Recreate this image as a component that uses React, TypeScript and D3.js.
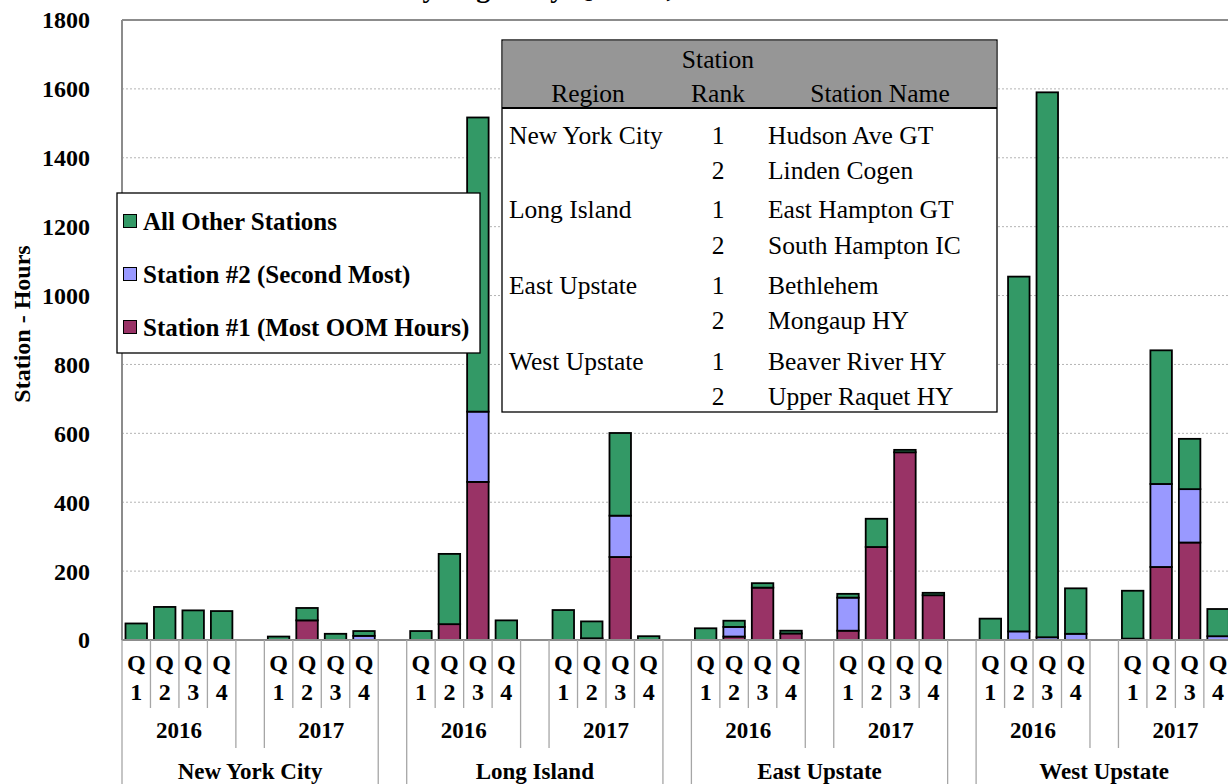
import React, { useRef, useEffect } from 'react';
import * as d3 from 'd3';

const regions = ["New York City", "Long Island", "East Upstate", "West Upstate"];
const years = ["2016", "2017"];
const quarters = ["1", "2", "3", "4"];

// per region: 2016 Q1..Q4, then 2017 Q1..Q4
const station1 = [
  [0, 0, 0, 0, 0, 57, 0, 0],
  [0, 46, 459, 0, 0, 5, 241, 0],
  [0, 10, 152, 19, 27, 270, 545, 130],
  [0, 0, 0, 0, 4, 212, 283, 0],
];
const station2 = [
  [0, 0, 0, 0, 0, 0, 0, 12],
  [0, 0, 204, 0, 0, 0, 120, 0],
  [0, 28, 0, 0, 96, 0, 0, 0],
  [0, 25, 8, 18, 0, 241, 155, 11],
];
const otherStations = [
  [48, 96, 86, 84, 10, 36, 18, 14],
  [26, 204, 854, 57, 87, 49, 240, 11],
  [34, 18, 13, 8, 11, 82, 7, 7],
  [62, 1030, 1582, 132, 139, 388, 146, 79],
];

const yTicks = [0, 200, 400, 600, 800, 1000, 1200, 1400, 1600, 1800];

const seriesKeys = ["s1", "s2", "other"];
const seriesColors: { [k: string]: string } = { s1: "#993366", s2: "#9999FF", other: "#339966" };
const legendLabels = ["All Other Stations", "Station #2 (Second Most)", "Station #1 (Most OOM Hours)"];
const legendKeys = ["other", "s2", "s1"];

const tableRegion = ["New York City", "", "Long Island", "", "East Upstate", "", "West Upstate", ""];
const tableRank = ["1", "2", "1", "2", "1", "2", "1", "2"];
const tableStation = ["Hudson Ave GT", "Linden Cogen", "East Hampton GT", "South Hampton IC", "Bethlehem", "Mongaup HY", "Beaver River HY", "Upper Raquet HY"];

const FONT = "'Liberation Serif', 'Times New Roman', serif";

export default function App() {
  const svgRef = useRef<SVGSVGElement>(null);

  useEffect(() => {
    if (!svgRef.current) return;
    const svg = d3.select(svgRef.current);
    svg.selectAll("*").remove();

    const left = 122;
    const top = 20;
    const bottom = 640;
    const slot = 28.47;

    // category slots, with empty slots between years and regions
    const slots: string[] = [];
    const rows: any[] = [];
    regions.forEach((r, ri) => {
      years.forEach((yr, yi) => {
        quarters.forEach((q, qi) => {
          const key = `${ri}-${yr}-${q}`;
          slots.push(key);
          const i = yi * 4 + qi;
          rows.push({ key, s1: station1[ri][i], s2: station2[ri][i], other: otherStations[ri][i] });
        });
        slots.push(`${ri}-${yr}-gap`);
      });
    });

    const x = d3.scaleBand<string>()
      .domain(slots)
      .range([left, left + slot * slots.length])
      .paddingInner(0.245)
      .paddingOuter(0.1225);
    const step = x.step();
    const bx = (k: number) => left + k * step;
    const right = left + step * slots.length;

    const y = d3.scaleLinear().domain([0, 1800]).range([bottom, top]);

    // title (mostly cut off at the top)
    svg.append("text")
      .attr("x", 400).attr("y", -3)
      .attr("text-anchor", "end")
      .attr("font-family", FONT).attr("font-weight", "bold").attr("font-size", "28px")
      .text("OOM Station-Hours");
    svg.append("text")
      .attr("x", 407).attr("y", -3)
      .attr("font-family", FONT).attr("font-weight", "bold").attr("font-size", "28px")
      .text("by Region by Quarter, 2016-2017");

    // gridlines
    svg.append("g").selectAll("line")
      .data(yTicks.filter(t => t > 0 && t < 1800))
      .join("line")
      .attr("x1", left).attr("x2", right)
      .attr("y1", d => y(d)).attr("y2", d => y(d))
      .attr("stroke", "#b4b4b4").attr("stroke-width", 1)
      .attr("stroke-dasharray", "2,2");

    // y tick labels
    svg.append("g").selectAll("text")
      .data(yTicks)
      .join("text")
      .attr("x", 90).attr("y", d => y(d))
      .attr("dy", "0.35em")
      .attr("text-anchor", "end")
      .attr("font-family", FONT).attr("font-weight", "bold").attr("font-size", "24px")
      .text(d => d);

    svg.append("text")
      .attr("transform", `translate(30, ${(top + bottom) / 2 - 6}) rotate(-90)`)
      .attr("text-anchor", "middle")
      .attr("font-family", FONT).attr("font-weight", "bold").attr("font-size", "24px")
      .text("Station - Hours");

    // stacked bars
    const stack = d3.stack<any>().keys(seriesKeys);
    const layers = stack(rows);
    const barG = svg.append("g");
    layers.forEach(layer => {
      barG.append("g").selectAll("rect")
        .data(layer.filter(d => d[1] - d[0] > 0))
        .join("rect")
        .attr("x", d => x(d.data.key)!)
        .attr("width", x.bandwidth())
        .attr("y", d => y(d[1]))
        .attr("height", d => y(d[0]) - y(d[1]))
        .attr("fill", seriesColors[layer.key])
        .attr("stroke", "#000")
        .attr("stroke-width", 1.8);
    });

    // plot border
    svg.append("line").attr("x1", left).attr("x2", right).attr("y1", top).attr("y2", top)
      .attr("stroke", "#8c8c8c").attr("stroke-width", 2);
    svg.append("line").attr("x1", left).attr("x2", left).attr("y1", top).attr("y2", bottom)
      .attr("stroke", "#8c8c8c").attr("stroke-width", 2);
    svg.append("line").attr("x1", left).attr("x2", right).attr("y1", bottom).attr("y2", bottom)
      .attr("stroke", "#8c8c8c").attr("stroke-width", 2);

    // category axis: quarters, years, regions
    const axisG = svg.append("g");
    const qBottom = 708, yBottom = 748, rBottom = 800;
    const lineColor = "#a6a6a6";
    for (let k = 0; k <= slots.length; k++) {
      const inRegion = k % 10;
      let y2 = qBottom;
      if ([0, 4, 5, 9].includes(inRegion)) y2 = yBottom;
      if (inRegion === 0 || inRegion === 9) y2 = rBottom;
      axisG.append("line")
        .attr("x1", bx(k)).attr("x2", bx(k))
        .attr("y1", bottom).attr("y2", y2)
        .attr("stroke", lineColor).attr("stroke-width", 1.3);
    }
    const labelStyle = (t: any, size: number) => t
      .attr("text-anchor", "middle")
      .attr("font-family", FONT).attr("font-weight", "bold").attr("font-size", `${size}px`);

    rows.forEach(r => {
      const cx = x(r.key)! + x.bandwidth() / 2;
      const q = r.key.split("-")[2];
      axisG.append("text").attr("x", cx).attr("y", 671).call(labelStyle, 24).text("Q");
      axisG.append("text").attr("x", cx).attr("y", 700).call(labelStyle, 24).text(q);
    });
    regions.forEach((r, ri) => {
      years.forEach((yr, yi) => {
        const k0 = ri * 10 + yi * 5;
        axisG.append("text").attr("x", (bx(k0) + bx(k0 + 4)) / 2).attr("y", 738).call(labelStyle, 23).text(yr);
      });
      axisG.append("text").attr("x", (bx(ri * 10) + bx(ri * 10 + 9)) / 2).attr("y", 779).call(labelStyle, 23).text(r);
    });

    // legend
    const lg = svg.append("g");
    lg.append("rect")
      .attr("x", 117).attr("y", 193).attr("width", 363).attr("height", 160)
      .attr("fill", "#fff").attr("stroke", "#000").attr("stroke-width", 1.3);
    const legendY = d3.scalePoint<string>().domain(legendKeys).range([221, 327]);
    legendKeys.forEach((k, i) => {
      const cy = legendY(k)!;
      lg.append("rect")
        .attr("x", 123.5).attr("y", cy - 6.5).attr("width", 13).attr("height", 13)
        .attr("fill", seriesColors[k]).attr("stroke", "#000").attr("stroke-width", 1);
      lg.append("text")
        .attr("x", 143).attr("y", cy).attr("dy", "0.35em")
        .attr("font-family", FONT).attr("font-weight", "bold").attr("font-size", "25px")
        .text(legendLabels[i]);
    });

    // station table
    const tg = svg.append("g");
    const tx0 = 502, tx1 = 997, ty0 = 40, ty1 = 412, headBottom = 108;
    tg.append("rect")
      .attr("x", tx0).attr("y", ty0).attr("width", tx1 - tx0).attr("height", ty1 - ty0)
      .attr("fill", "#fff").attr("stroke", "#000").attr("stroke-width", 1.3);
    tg.append("rect")
      .attr("x", tx0 + 1).attr("y", ty0 + 1).attr("width", tx1 - tx0 - 2).attr("height", headBottom - ty0 - 1)
      .attr("fill", "#969696");
    tg.append("line").attr("x1", tx0).attr("x2", tx1).attr("y1", headBottom).attr("y2", headBottom)
      .attr("stroke", "#000").attr("stroke-width", 2);
    const cell = (xv: number, yv: number, txt: string, anchor: string) =>
      tg.append("text").attr("x", xv).attr("y", yv).attr("text-anchor", anchor)
        .attr("font-family", FONT).attr("font-size", "25.5px").attr("fill", "#000").text(txt);
    cell(718, 68, "Station", "middle");
    cell(588, 102, "Region", "middle");
    cell(718, 102, "Rank", "middle");
    cell(880, 102, "Station Name", "middle");
    const rowY = [144, 179, 218, 254, 294, 329, 370, 405];
    tableStation.forEach((s, i) => {
      cell(509, rowY[i], tableRegion[i], "start");
      cell(718, rowY[i], tableRank[i], "middle");
      cell(768, rowY[i], s, "start");
    });
  }, []);

  return (
    <div style={{ position: "fixed", left: 0, top: 0, width: 1228, height: 784, overflow: "hidden", background: "#fff" }}>
      <svg ref={svgRef} width={1228} height={784} style={{ display: "block" }}></svg>
    </div>
  );
}
